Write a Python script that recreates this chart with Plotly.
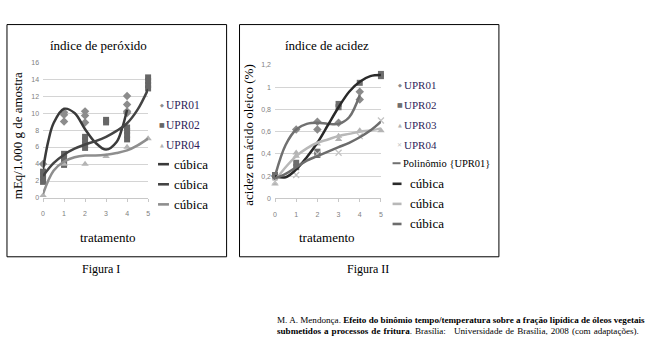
import plotly.graph_objects as go

W, H = 648, 347

# ---------------- Data: Figura I (índice de peróxido) ----------------
p_upr01_x = [0, 1, 1, 1, 2, 2, 2, 4, 4, 4, 4]
p_upr01_y = [4.0, 10.1, 9.8, 9.0, 10.2, 9.7, 8.9, 12.0, 11.0, 10.2, 10.0]
p_upr02_x = [0, 0, 0, 0, 1, 1, 1, 1, 2, 2, 2, 2, 3, 3, 4, 4, 4, 4, 5, 5, 5, 5]
p_upr02_y = [1.9, 2.3, 2.7, 3.1, 3.9, 4.3, 4.8, 5.2, 5.9, 6.3, 6.8, 7.2,
             8.9, 9.2, 6.9, 7.4, 7.9, 8.3, 12.9, 13.3, 13.8, 14.2]
p_upr04_x = [0, 1, 2, 3, 4, 5]
p_upr04_y = [0.3, 4.0, 4.0, 4.9, 6.0, 7.0]

# cubic trend lines
p_cub1_x = [0, 0.25, 0.5, 1, 1.5, 2, 2.5, 3, 3.5, 3.75, 4]
p_cub1_y = [3.4, 6.7, 8.8, 10.5, 10.0, 8.1, 6.5, 5.7, 6.6, 8.1, 10.4]
p_cub2_x = [0, 0.5, 1, 1.5, 2, 2.5, 3, 3.5, 4, 4.5, 5]
p_cub2_y = [2.6, 4.1, 5.1, 5.8, 6.3, 6.7, 7.2, 7.9, 8.8, 10.4, 12.8]
p_cub3_x = [0, 0.5, 1, 1.5, 2, 2.5, 3, 3.5, 4, 4.5, 5]
p_cub3_y = [0.5, 3.2, 4.3, 4.8, 5.0, 5.0, 5.1, 5.3, 5.6, 6.2, 7.0]

p_yticks = [0, 2, 4, 6, 8, 10, 12, 14, 16]
p_yticktext = ["0", "2", "4", "6", "8", "10", "12", "14", "16"]

# ---------------- Data: Figura II (índice de acidez) ----------------
a_upr01_x = [0, 1, 2, 2, 3, 4, 4]
a_upr01_y = [0.20, 0.62, 0.69, 0.62, 0.68, 0.96, 0.89]
a_upr02_x = [0, 0, 1, 1, 2, 2, 3, 3, 4, 5, 5]
a_upr02_y = [0.21, 0.19, 0.32, 0.28, 0.42, 0.39, 0.85, 0.82, 1.04, 1.12, 1.10]
a_upr03_x = [0, 1, 1, 2, 3, 3, 4, 5]
a_upr03_y = [0.13, 0.41, 0.38, 0.49, 0.56, 0.53, 0.61, 0.61]
a_upr04_x = [0, 1, 2, 3, 4, 5]
a_upr04_y = [0.15, 0.21, 0.40, 0.41, 0.56, 0.70]

a_pol_x = [0, 0.5, 1, 1.5, 2, 2.5, 3, 3.5, 4]
a_pol_y = [0.20, 0.48, 0.62, 0.67, 0.68, 0.67, 0.67, 0.73, 0.93]
a_cub1_x = [0, 0.5, 1, 1.5, 2, 2.5, 3, 3.5, 4, 4.5, 5]
a_cub1_y = [0.20, 0.19, 0.26, 0.37, 0.50, 0.66, 0.82, 0.96, 1.05, 1.10, 1.11]
a_cub2_x = [0, 0.5, 1, 1.5, 2, 2.5, 3, 3.5, 4, 4.5, 5]
a_cub2_y = [0.16, 0.28, 0.38, 0.45, 0.50, 0.53, 0.56, 0.58, 0.60, 0.61, 0.63]
a_cub3_x = [0, 0.5, 1, 1.5, 2, 2.5, 3, 3.5, 4, 4.5, 5]
a_cub3_y = [0.18, 0.22, 0.28, 0.34, 0.38, 0.42, 0.46, 0.50, 0.55, 0.61, 0.69]

a_yticks = [0, 0.2, 0.4, 0.6, 0.8, 1.0, 1.2]
a_yticktext = ["0", "0,2", "0,4", "0,6", "0,8", "1", "1,2"]

x_ticks = [0, 1, 2, 3, 4, 5]

# ---------------- helpers ----------------
def px(x):
    return x / W

def py(y):
    return 1 - y / H

SERIF = "Liberation Serif, Times New Roman, serif"
TICKF = dict(family="Liberation Sans, Arial, sans-serif", size=7, color="#808080")
LEG_TXT = "#2f1f5a"

fig = go.Figure()

def scat(x, y, sym, color, size, xa, ya):
    fig.add_trace(go.Scatter(x=x, y=y, mode="markers", xaxis=xa, yaxis=ya,
                             marker=dict(symbol=sym, color=color, size=size,
                                         line=dict(width=0)),
                             cliponaxis=False, showlegend=False, hoverinfo="skip"))

def line(x, y, color, xa, ya, w=2.5):
    fig.add_trace(go.Scatter(x=x, y=y, mode="lines", xaxis=xa, yaxis=ya,
                             line=dict(color=color, width=w, shape="spline"),
                             cliponaxis=False, showlegend=False, hoverinfo="skip"))

# Figura I
scat(p_upr01_x, p_upr01_y, "diamond", "#8c8c8c", 6.5, "x", "y")
scat(p_upr02_x, p_upr02_y, "square", "#666666", 6, "x", "y")
scat(p_upr04_x, p_upr04_y, "triangle-up", "#b4b4b4", 6.5, "x", "y")
line(p_cub1_x, p_cub1_y, "#3a3a3a", "x", "y")
line(p_cub2_x, p_cub2_y, "#444444", "x", "y")
line(p_cub3_x, p_cub3_y, "#8e8e8e", "x", "y")

# Figura II
scat(a_upr01_x, a_upr01_y, "diamond", "#8a8a8a", 6.5, "x2", "y2")
scat(a_upr02_x, a_upr02_y, "square", "#6e6e6e", 6, "x2", "y2")
scat(a_upr03_x, a_upr03_y, "triangle-up", "#b4b4b4", 6.5, "x2", "y2")
scat(a_upr04_x, a_upr04_y, "x-thin", "#c4c4c4", 6, "x2", "y2")
fig.data[-1].marker.line = dict(width=1.3, color="#c4c4c4")
line(a_pol_x, a_pol_y, "#707070", "x2", "y2")
line(a_cub1_x, a_cub1_y, "#2a2a2a", "x2", "y2")
line(a_cub2_x, a_cub2_y, "#b8b8b8", "x2", "y2")
line(a_cub3_x, a_cub3_y, "#6c6c6c", "x2", "y2")

def xaxis_cfg(x0, x1, anchor):
    return dict(domain=[px(x0), px(x1)], range=[0, 5], tickvals=x_ticks, anchor=anchor,
                tickfont=TICKF, showgrid=False, zeroline=False, showline=True,
                linecolor="#c8c8c8", linewidth=1, ticks="outside", ticklen=3,
                tickcolor="#c8c8c8", ticklabelstandoff=6, fixedrange=True)

def yaxis_cfg(y0, y1, rng, tv, tt, anchor):
    return dict(domain=[py(y0), py(y1)], range=rng, tickvals=tv, ticktext=tt, anchor=anchor,
                tickfont=TICKF, showgrid=True, gridcolor="#d4d4d4", gridwidth=1,
                zeroline=False, showline=False, ticks="", ticklabelstandoff=3,
                fixedrange=True)

fig.update_layout(
    width=W, height=H, margin=dict(l=0, r=0, t=0, b=0),
    paper_bgcolor="white", plot_bgcolor="white", showlegend=False,
    xaxis=xaxis_cfg(41.3, 147, "y"),
    yaxis=yaxis_cfg(198, 59.3, [0, 16], p_yticks, p_yticktext, "x"),
    xaxis2=xaxis_cfg(274.7, 381.3, "y2"),
    yaxis2=yaxis_cfg(198.3, 62.3, [0, 1.2], a_yticks, a_yticktext, "x2"),
)

ann = []
shapes = []

def text(x, y, s, size=13, xanchor="center", color="black", angle=0, family=SERIF):
    ann.append(dict(x=px(x), y=py(y), xref="paper", yref="paper", text=s,
                    showarrow=False, xanchor=xanchor, yanchor="middle",
                    textangle=angle, font=dict(family=family, size=size, color=color)))

# frames
shapes.append(dict(type="rect", xref="paper", yref="paper", x0=px(5), x1=px(226),
                   y0=py(258), y1=py(21), line=dict(color="black", width=1)))
shapes.append(dict(type="rect", xref="paper", yref="paper", x0=px(239), x1=px(500),
                   y0=py(258), y1=py(21), line=dict(color="black", width=1)))

# titles
text(97, 42, "índice de peróxido", 13)
text(327, 42, "índice de acidez", 13)
text(15, 134, "mEq/1.000 g de amostra", 13, angle=-90)
text(248, 134, "acidez em ácido oleico (%)", 13, angle=-90)
text(107, 238, "tratamento", 13)
text(327, 238, "tratamento", 13)
text(100, 270, "Figura I", 12)
text(368, 270, "Figura II", 12)

# legends
def leg_marker(x, y, glyph, color, size):
    text(x, y, glyph, size, color=color, family="DejaVu Sans")

def leg_line(x0, x1, y, color, w=2.6):
    shapes.append(dict(type="line", xref="paper", yref="paper", x0=px(x0), x1=px(x1),
                       y0=py(y), y1=py(y), line=dict(color=color, width=w)))

# Figura I legend
leg_marker(160.5, 103, "◆", "#8c8c8c", 5)
text(163, 103, "UPR01", 11.5, xanchor="left", color=LEG_TXT)
leg_marker(160.5, 123, "■", "#666666", 6)
text(163, 123, "UPR02", 11.5, xanchor="left", color=LEG_TXT)
leg_marker(160.5, 143.5, "▲", "#b4b4b4", 5)
text(163, 143.5, "UPR04", 11.5, xanchor="left", color=LEG_TXT)
leg_line(157, 168, 163.5, "#3a3a3a")
text(171, 163.5, "cúbica", 13, xanchor="left")
leg_line(157, 168, 184, "#444444")
text(171, 184, "cúbica", 13, xanchor="left")
leg_line(157, 168, 204.5, "#8e8e8e")
text(171, 204.5, "cúbica", 13, xanchor="left")

# Figura II legend
leg_marker(400, 83, "◆", "#8a8a8a", 5)
text(402.5, 83, "UPR01", 11, xanchor="left", color=LEG_TXT)
leg_marker(400, 103, "■", "#6e6e6e", 6)
text(402.5, 103, "UPR02", 11, xanchor="left", color=LEG_TXT)
leg_marker(400, 123, "▲", "#b4b4b4", 5)
text(402.5, 123, "UPR03", 11, xanchor="left", color=LEG_TXT)
leg_marker(400, 143.5, "✕", "#c4c4c4", 6)
text(402.5, 143.5, "UPR04", 11, xanchor="left", color=LEG_TXT)
leg_line(393, 401, 162.5, "#707070", 2)
text(401, 162.5, "Polinômio {UPR01}", 10.5, xanchor="left")
leg_line(393, 402, 183.5, "#2a2a2a")
text(409, 183.5, "cúbica", 13, xanchor="left")
leg_line(393, 402, 204, "#b8b8b8")
text(409, 204, "cúbica", 13, xanchor="left")
leg_line(393, 402, 224.5, "#6c6c6c")
text(409, 224.5, "cúbica", 13, xanchor="left")

# caption (second line spread out like justified text)
CAP = 9.1
SP = " \u200a"
text(275, 323, "M. A. Mendonça. <b>Efeito do binômio tempo/temperatura sobre a fração lipídica de óleos vegetais</b>",
     CAP, xanchor="left")
left_words = ["<b>submetidos", "a", "processos", "de", "fritura</b>.", "Brasília:"]
right_words = ["Universidade", "de", "Brasília,", "2008", "(com", "adaptações)."]
text(275, 334, SP.join(left_words), CAP, xanchor="left")
ann.append(dict(x=px(643), y=py(334), xref="paper", yref="paper",
                text=SP.join(right_words),
                showarrow=False, xanchor="right", yanchor="middle",
                font=dict(family=SERIF, size=CAP, color="black")))

fig.update_layout(annotations=ann, shapes=shapes)
fig.write_html("out.html")
